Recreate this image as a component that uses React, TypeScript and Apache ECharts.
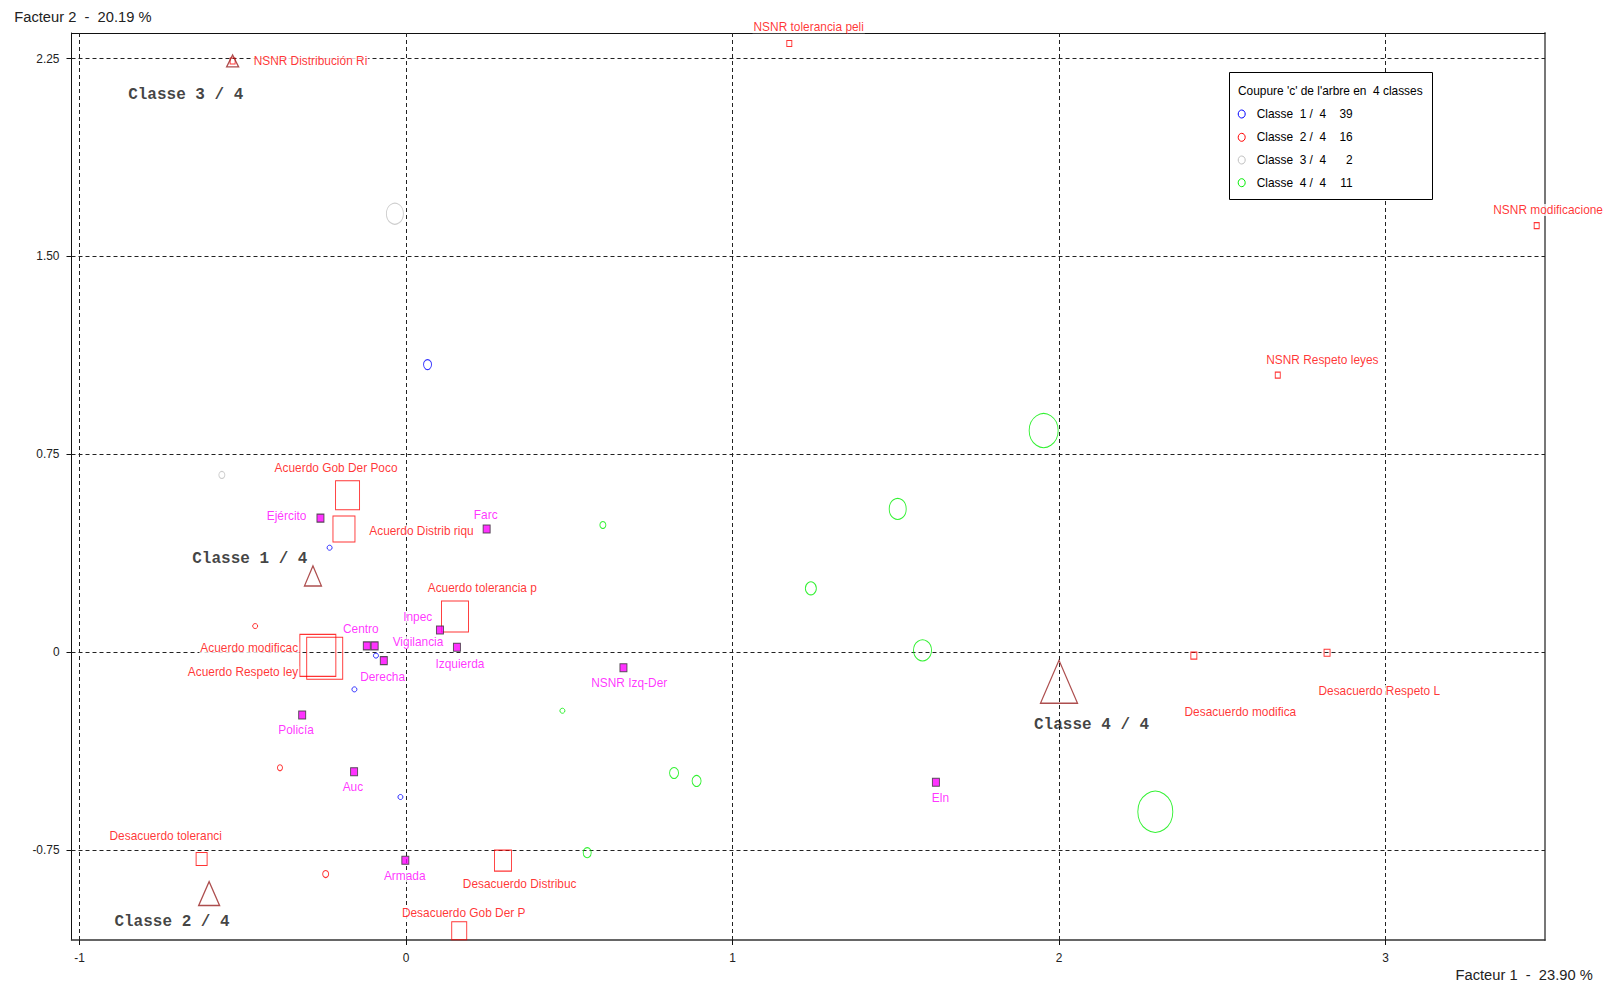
import React, { useEffect, useRef } from 'react';
import * as echarts from 'echarts';

// ---------------- data ----------------
const xTickValues = [-1, 0, 1, 2, 3];
const xTickLabels = ['-1', '0', '1', '2', '3'];
const yTickValues = [-0.75, 0, 0.75, 1.5, 2.25];
const yTickLabels = ['-0.75', '0', '0.75', '1.50', '2.25'];
const X_MIN = -1.0245;
const X_MAX = 3.4885;
const Y_MIN = -1.091;
const Y_MAX = 2.347;

const xTitle = 'Facteur 1  -  23.90 %';
const yTitle = 'Facteur 2  -  20.19 %';

// active modalities (red open squares)
const activeNames = [
  'NSNR tolerancia peli', 'NSNR Distribución Ri', 'NSNR modificaciones', 'NSNR Respeto leyes',
  'Desacuerdo modifica', 'Desacuerdo Respeto L', 'Acuerdo Gob Der Poco', 'Acuerdo Distrib riqu',
  'Acuerdo tolerancia p', 'Acuerdo modificac', 'Acuerdo Respeto ley', 'Desacuerdo toleranci',
  'Desacuerdo Distribuc', 'Desacuerdo Gob Der P',
];
const activeX = [1.174, -0.531, 3.463, 2.670, 2.413, 2.821, -0.179, -0.190, 0.150, -0.270, -0.249, -0.626, 0.297, 0.163];
const activeY = [2.307, 2.241, 1.617, 1.050, -0.013, -0.002, 0.595, 0.467, 0.135, -0.012, -0.023, -0.784, -0.790, -1.056];

// illustrative modalities (magenta filled squares)
const illusNames = ['Ejército', 'Farc', 'Inpec', 'Centro', 'Vigilancia', 'Derecha', 'Izquierda', 'Policía', 'Auc', 'Armada', 'NSNR Izq-Der', 'Eln'];
const illusX = [-0.262, 0.247, 0.104, -0.120, -0.096, -0.068, 0.156, -0.318, -0.159, -0.002, 0.666, 1.623];
const illusY = [0.508, 0.467, 0.084, 0.024, 0.024, -0.032, 0.019, -0.238, -0.453, -0.789, -0.059, -0.493];

// individuals by class
const class1Points = [[0.066, 1.090], [-0.234, 0.396], [-0.092, -0.013], [-0.158, -0.141], [-0.017, -0.549]];
const class2Points = [[-0.462, 0.099], [-0.386, -0.438], [-0.246, -0.841]];
const class3Points = [[-0.034, 1.662], [-0.564, 0.672]];
const class4Points = [
  [1.953, 0.840], [1.506, 0.543], [1.240, 0.242], [1.582, 0.007], [0.603, 0.482],
  [0.479, -0.222], [0.821, -0.458], [0.890, -0.488], [0.555, -0.760], [2.295, -0.605],
];

// class centroids
const centroidNames = ['Classe 1 / 4', 'Classe 2 / 4', 'Classe 3 / 4', 'Classe 4 / 4'];
const centroidX = [-0.285, -0.603, -0.531, 2.000];
const centroidY = [0.289, -0.915, 2.241, -0.112];

// legend
const legendTitle = "Coupure 'c' de l'arbre en  4 classes";
const legendLabels = ['Classe  1 /  4', 'Classe  2 /  4', 'Classe  3 /  4', 'Classe  4 /  4'];
const classCounts = [39, 16, 2, 11];

// ---------------- presentation ----------------
type LStyle = { size: number[]; align: string; dx: number; dy: number };
const activeStyle: Record<string, LStyle> = {
  'NSNR tolerancia peli': { size: [5, 6], align: 'center', dx: 19.4, dy: -16.4 },
  'NSNR Distribución Ri': { size: [5, 6], align: 'left', dx: 20, dy: 0.5 },
  'NSNR modificaciones': { size: [5, 6], align: 'left', dx: -44.4, dy: -15.7 },
  'NSNR Respeto leyes': { size: [5, 6], align: 'center', dx: 44.6, dy: -15.3 },
  'Desacuerdo modifica': { size: [6, 7], align: 'center', dx: 46.5, dy: 56.8 },
  'Desacuerdo Respeto L': { size: [6, 7], align: 'center', dx: 52.2, dy: 38.3 },
  'Acuerdo Gob Der Poco': { size: [24, 29], align: 'center', dx: -11.5, dy: -27.6 },
  'Acuerdo Distrib riqu': { size: [22, 26], align: 'left', dx: 24.3, dy: 1.7 },
  'Acuerdo tolerancia p': { size: [27, 31], align: 'center', dx: 27.3, dy: -29 },
  'Acuerdo modificac': { size: [36, 42], align: 'right', dx: -18.7, dy: -7 },
  'Acuerdo Respeto ley': { size: [36, 42], align: 'right', dx: -25.5, dy: 14 },
  'Desacuerdo toleranci': { size: [11, 13], align: 'center', dx: -35.9, dy: -23.3 },
  'Desacuerdo Distribuc': { size: [17, 21], align: 'center', dx: 16.7, dy: 23.3 },
  'Desacuerdo Gob Der P': { size: [15, 18], align: 'center', dx: 4.5, dy: -17.4 },
};
const illusStyle: Record<string, LStyle> = {
  'Ejército': { size: [7, 8], align: 'right', dx: -13, dy: -2.3 },
  'Farc': { size: [7, 8], align: 'center', dx: -0.9, dy: -14 },
  'Inpec': { size: [7, 8], align: 'right', dx: -6.7, dy: -12.7 },
  'Centro': { size: [7, 8], align: 'center', dx: -6, dy: -16.7 },
  'Vigilancia': { size: [7, 8], align: 'left', dx: 17, dy: -3.7 },
  'Derecha': { size: [7, 8], align: 'center', dx: -1.2, dy: 16 },
  'Izquierda': { size: [7, 8], align: 'center', dx: 3, dy: 17 },
  'Policía': { size: [7, 8], align: 'center', dx: -6.1, dy: 15 },
  'Auc': { size: [7, 8], align: 'center', dx: -1.2, dy: 15 },
  'Armada': { size: [7, 8], align: 'center', dx: -0.6, dy: 15.7 },
  'NSNR Izq-Der': { size: [7, 8], align: 'center', dx: 5.8, dy: 15 },
  'Eln': { size: [7, 8], align: 'center', dx: 4.5, dy: 15.3 },
};
const classSizes = [
  [[8, 10], [5, 5], [5, 5], [5, 5], [5, 5]],
  [[5, 5], [5, 6], [6, 7]],
  [[17, 21], [6, 7]],
  [[29, 34], [17, 21], [11, 13], [18, 21], [6, 7], [5, 5], [9, 11], [9, 11], [8, 10], [35, 41]],
];
const classColors = ['#0000ff', '#ff0000', '#c0c0c0', '#00ee00'];
const centroidStyle: LStyle[] = [
  { size: [17, 20], align: 'left', dx: -120.7, dy: -17 },
  { size: [21, 24], align: 'left', dx: -94.7, dy: 28 },
  { size: [12, 12], align: 'left', dx: -104.5, dy: 34 },
  { size: [37, 43], align: 'left', dx: -25, dy: 43 },
];

const LABEL_FAMILY = "'Liberation Sans Narrow', 'Liberation Sans', Arial, sans-serif";
const MONO_FAMILY = "'Liberation Mono', 'DejaVu Sans Mono', monospace";

const nb = (s: string) => s.replace(/ {2}/g, ' \u00a0');

function fitFontSize(family: string, sample: string, target: number, fallback: number) {
  try {
    const ctx = document.createElement('canvas').getContext('2d');
    if (!ctx) return fallback;
    ctx.font = `normal 100px ${family}`;
    const w = ctx.measureText(sample).width;
    if (!(w > 0)) return fallback;
    return Math.round((1000 * target) / w) / 10;
  } catch (e) {
    return fallback;
  }
}

function labelFor(values: number[], labels: string[], v: number) {
  const i = values.findIndex((t) => Math.abs(t - v) < 1e-6);
  return i >= 0 ? labels[i] : '';
}

export default function App() {
  const ref = useRef<HTMLDivElement>(null);

  useEffect(() => {
    if (!ref.current) return;
    const chart = echarts.init(ref.current, null, { renderer: 'svg' });

    const fs = fitFontSize(LABEL_FAMILY, 'NSNR tolerancia peli', 110.4, 12);
    const titleFs = fitFontSize(LABEL_FAMILY, nb(yTitle), 137, 14);

    const classSeries = [class1Points, class2Points, class3Points, class4Points].map((pts, k) => ({
      type: 'scatter',
      name: legendLabels[k],
      z: 10,
      symbol: 'circle',
      data: pts.map((p, i) => ({ value: p, symbolSize: classSizes[k][i] })),
      itemStyle: { color: 'rgba(0,0,0,0)', borderColor: classColors[k], borderWidth: 1 },
      emphasis: { disabled: true },
      silent: true,
    }));

    const labelBase = {
      show: true,
      formatter: '{b}',
      position: 'inside',
      verticalAlign: 'middle',
      fontFamily: LABEL_FAMILY,
      fontSize: fs,
      backgroundColor: '#fff',
      padding: [0, 1],
    };

    const activeSeries = {
      type: 'scatter',
      z: 11,
      symbol: 'rect',
      data: activeNames.map((n, i) => {
        const s = activeStyle[n];
        return {
          name: n,
          value: [activeX[i], activeY[i]],
          symbolSize: s.size,
          label: { align: s.align, offset: [s.dx, s.dy] },
        };
      }),
      itemStyle: { color: 'rgba(0,0,0,0)', borderColor: '#ff0000', borderWidth: 1 },
      label: { ...labelBase, color: '#ff0000' },
      emphasis: { disabled: true },
      silent: true,
    };

    const illusSeries = {
      type: 'scatter',
      z: 12,
      symbol: 'rect',
      data: illusNames.map((n, i) => {
        const s = illusStyle[n];
        return {
          name: n,
          value: [illusX[i], illusY[i]],
          symbolSize: s.size,
          label: { align: s.align, offset: [s.dx, s.dy] },
        };
      }),
      itemStyle: { color: '#ff00ff', borderColor: '#333', borderWidth: 1 },
      label: { ...labelBase, color: '#ff00ff' },
      emphasis: { disabled: true },
      silent: true,
    };

    const centroidSeries = {
      type: 'scatter',
      z: 13,
      symbol: 'triangle',
      data: centroidNames.map((n, i) => {
        const s = centroidStyle[i];
        return {
          name: n,
          value: [centroidX[i], centroidY[i]],
          symbolSize: s.size,
          label: { align: s.align, offset: [s.dx, s.dy] },
        };
      }),
      itemStyle: { color: 'rgba(0,0,0,0)', borderColor: '#992222', borderWidth: 1.3 },
      label: {
        show: true,
        formatter: '{b}',
        position: 'inside',
        verticalAlign: 'middle',
        fontFamily: MONO_FAMILY,
        fontWeight: 'bold',
        fontSize: 16,
        color: '#111',
      },
      emphasis: { disabled: true },
      silent: true,
    };

    const gridLineSeries = {
      type: 'scatter',
      z: 1,
      data: [],
      silent: true,
      markLine: {
        z: 1,
        silent: true,
        symbol: ['none', 'none'],
        label: { show: false },
        lineStyle: { color: '#222', type: [4, 3], width: 1 },
        emphasis: { disabled: true },
        data: [
          ...xTickValues.map((v) => ({ xAxis: v })),
          ...yTickValues.map((v) => ({ yAxis: v })),
        ],
      },
    };

    const legendX = 1229.5;
    const legendY = 72.5;
    const itemYs = [114, 137.3, 160, 182.7];
    const graphics: any[] = [
      {
        type: 'rect',
        z: 100,
        shape: { x: legendX, y: legendY, width: 203, height: 127 },
        style: { fill: '#fff', stroke: '#000', lineWidth: 1 },
      },
      {
        type: 'text',
        z: 101,
        x: 1238,
        y: 90.7,
        style: {
          text: nb(legendTitle),
          fill: '#000',
          font: `${fs}px ${LABEL_FAMILY}`,
          textAlign: 'left',
          textVerticalAlign: 'middle',
        },
      },
      {
        type: 'text',
        x: 14.3,
        y: 17.4,
        style: {
          text: nb(yTitle),
          fill: '#222',
          font: `${titleFs}px ${LABEL_FAMILY}`,
          textAlign: 'left',
          textVerticalAlign: 'middle',
        },
      },
      {
        type: 'text',
        x: 1592.7,
        y: 975.3,
        style: {
          text: nb(xTitle),
          fill: '#222',
          font: `${titleFs}px ${LABEL_FAMILY}`,
          textAlign: 'right',
          textVerticalAlign: 'middle',
        },
      },
    ];
    legendLabels.forEach((lab, k) => {
      graphics.push({
        type: 'ellipse',
        z: 101,
        shape: { cx: 1241.7, cy: itemYs[k], rx: 3.5, ry: 4 },
        style: { fill: 'none', stroke: classColors[k], lineWidth: 1 },
      });
      graphics.push({
        type: 'text',
        z: 101,
        x: 1256.7,
        y: itemYs[k],
        style: {
          text: nb(lab),
          fill: '#000',
          font: `${fs}px ${LABEL_FAMILY}`,
          textAlign: 'left',
          textVerticalAlign: 'middle',
        },
      });
      graphics.push({
        type: 'text',
        z: 101,
        x: 1352.7,
        y: itemYs[k],
        style: {
          text: String(classCounts[k]),
          fill: '#000',
          font: `${fs}px ${LABEL_FAMILY}`,
          textAlign: 'right',
          textVerticalAlign: 'middle',
        },
      });
    });

    const hiddenAxisParts = {
      axisTick: { show: false },
      axisLabel: { show: false },
      splitLine: { show: false },
    };

    const option: any = {
      animation: false,
      backgroundColor: '#fff',
      grid: { left: 71.5, top: 33, right: 58, bottom: 49, containLabel: false, outerBoundsMode: 'none' },
      xAxis: [
        {
          type: 'value',
          min: X_MIN,
          max: X_MAX,
          position: 'bottom',
          axisLine: { show: true, onZero: false, lineStyle: { color: '#333', width: 1.5 } },
          axisTick: { show: true, customValues: xTickValues, length: 5, lineStyle: { color: '#111' } },
          axisLabel: {
            show: true,
            customValues: xTickValues,
            formatter: (v: number) => labelFor(xTickValues, xTickLabels, v),
            margin: 12,
            color: '#222',
            fontFamily: LABEL_FAMILY,
            fontSize: fs,
          },
          splitLine: { show: false },
        },
        {
          type: 'value',
          min: X_MIN,
          max: X_MAX,
          position: 'top',
          axisLine: { show: true, onZero: false, lineStyle: { color: '#111', width: 1 } },
          ...hiddenAxisParts,
        },
      ],
      yAxis: [
        {
          type: 'value',
          min: Y_MIN,
          max: Y_MAX,
          position: 'left',
          axisLine: { show: true, onZero: false, lineStyle: { color: '#111', width: 1 } },
          axisTick: { show: true, customValues: yTickValues, length: 5, lineStyle: { color: '#111' } },
          axisLabel: {
            show: true,
            customValues: yTickValues,
            formatter: (v: number) => labelFor(yTickValues, yTickLabels, v),
            margin: 12,
            color: '#222',
            fontFamily: LABEL_FAMILY,
            fontSize: fs,
          },
          splitLine: { show: false },
        },
        {
          type: 'value',
          min: Y_MIN,
          max: Y_MAX,
          position: 'right',
          axisLine: { show: true, onZero: false, lineStyle: { color: '#777', width: 2 } },
          ...hiddenAxisParts,
        },
      ],
      series: [gridLineSeries, ...classSeries, activeSeries, illusSeries, centroidSeries],
      graphic: graphics,
    };

    chart.setOption(option);
    return () => chart.dispose();
  }, []);

  return (
    <div
      ref={ref}
      style={{ position: 'fixed', left: 0, top: 0, width: 1603, height: 989, background: '#fff' }}
    />
  );
}
